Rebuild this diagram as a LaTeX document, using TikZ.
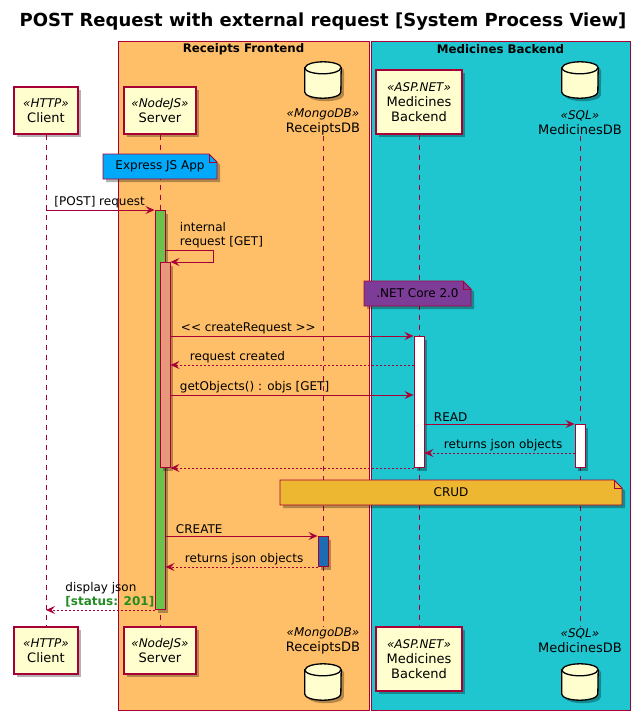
\documentclass[tikz,border=0pt]{standalone}
\usepackage{fontspec}
\setmainfont{DejaVu Sans}
\usetikzlibrary{calc, positioning, arrows.meta, shadows}

\definecolor{umlred}{HTML}{A80036}
\definecolor{umlivory}{HTML}{FEFECE}
\definecolor{frontorange}{HTML}{FFBF68}
\definecolor{backteal}{HTML}{1FC5CF}
\definecolor{expressblue}{HTML}{00A9F9}
\definecolor{netpurple}{HTML}{7D3C98}
\definecolor{crudgold}{HTML}{EDB731}
\definecolor{srvgreen}{HTML}{6BC24B}
\definecolor{intsalmon}{HTML}{E9977A}
\definecolor{dbblue}{HTML}{1B6CB3}
\definecolor{statusgreen}{HTML}{228B22}

\newcommand{\stereo}[1]{{\itshape\fontsize{12}{14}\selectfont «#1»}\\}
\newcommand{\umlnote}[5]{%
  \path #3 coordinate (#1-nw) #4 coordinate (#1-se);
  \draw[notebody, umlshadow, fill=#2] (#1-nw) -- ($(#1-nw -| #1-se)+(-8,0)$)
    -- ($(#1-nw -| #1-se)+(0,8)$) -- (#1-se) -- (#1-se -| #1-nw) -- cycle;
  \draw[notebody] ($(#1-nw -| #1-se)+(-8,0)$) |- ($(#1-nw -| #1-se)+(0,8)$);
  \node[notetext] (#1) at ($(#1-nw)!0.5!(#1-se)$) {#5};}
\newcommand{\dbcyl}[2]{%
  \node[inner sep=0pt, minimum width=36pt, minimum height=36pt] (#1) at #2 {};
  \draw[dbbody, umlshadow] ($(#1.north west)+(0,6)$) -- ($(#1.south west)+(0,-6)$)
    arc (180:0:18 and 6) -- ($(#1.north east)+(0,6)$) arc (0:-180:18 and 6) -- cycle;
  \draw[dbbody] ($(#1.north west)+(0,6)$) arc (180:0:18 and 6);}

\tikzset{
  >={Stealth[length=9pt, width=8pt, inset=3.5pt]},
  umlshadow/.style={drop shadow={shadow xshift=3pt, shadow yshift=-3pt, opacity=0.3, fill=black}},
  partbox/.style={draw=umlred, fill=umlivory, line width=1.4pt, align=center, inner sep=3pt,
    umlshadow, font=\fontsize{13}{15}\selectfont},
  dbbody/.style={draw=black, fill=umlivory, line width=1.3pt},
  dblabel/.style={align=center, inner sep=1pt, font=\fontsize{13}{15}\selectfont},
  grpbox/.style={draw=umlred, line width=1pt},
  grptitle/.style={font=\bfseries\fontsize{11.8}{13}\selectfont},
  lifeline/.style={draw=umlred, line width=0.8pt, dash pattern=on 5pt off 5pt},
  actbar/.style={draw=umlred, line width=1pt, minimum width=10pt, inner sep=0pt, anchor=north, umlshadow},
  notebody/.style={draw=umlred, line width=0.9pt},
  notetext/.style={inner sep=0pt, font=\fontsize{12}{14}\selectfont},
  msg/.style={draw=umlred, line width=0.9pt, ->},
  reply/.style={msg, dash pattern=on 2pt off 2pt},
  msglbl/.style={anchor=south west, inner sep=1pt, yshift=1pt, align=left, font=\fontsize{12}{14}\selectfont},
}

\begin{document}
\begin{tikzpicture}[x=1pt, y=-1pt]
\useasboundingbox (0,0) rectangle (640,720);

\node[font=\bfseries\fontsize{18}{21}\selectfont] (title) at (323,22)
  {POST Request with external request [System Process View]};

% boxes
\draw[grpbox, fill=frontorange] (118,41) rectangle (369,710);
\draw[grpbox, fill=backteal] (371,41) rectangle (630,710);
\node[grptitle] (frontTitle) at (243.5,49) {Receipts Frontend};
\node[grptitle] (backTitle) at (500.5,49) {Medicines Backend};

% participants
\node[partbox, minimum width=64, minimum height=47] (clientTop) at (46,110.5) {\stereo{HTTP}Client};
\node[partbox, minimum width=72, minimum height=47] (serverTop) at (160,110.5) {\stereo{NodeJS}Server};
\node[partbox, minimum width=86, minimum height=64] (backTop) at (419,102) {\stereo{ASP.NET}Medicines\\Backend};
\dbcyl{rdbIconTop}{(323,80)}
\node[dblabel, anchor=south] (rdbTop) at (323,136) {\stereo{MongoDB}ReceiptsDB};
\dbcyl{mdbIconTop}{(580,80)}
\node[dblabel, anchor=south] (mdbTop) at (580,136) {\stereo{SQL}MedicinesDB};

\node[partbox, minimum width=64, minimum height=47] (clientBot) at (46,650.5) {\stereo{HTTP}Client};
\node[partbox, minimum width=72, minimum height=47] (serverBot) at (160,650.5) {\stereo{NodeJS}Server};
\node[partbox, minimum width=86, minimum height=64] (backBot) at (419,659) {\stereo{ASP.NET}Medicines\\Backend};
\node[dblabel, anchor=north] (rdbBot) at (323,627) {\stereo{MongoDB}ReceiptsDB};
\dbcyl{rdbIconBot}{(323,682)}
\node[dblabel, anchor=north] (mdbBot) at (580,627) {\stereo{SQL}MedicinesDB};
\dbcyl{mdbIconBot}{(580,682)}

% lifelines
\draw[lifeline] (clientTop) -- (clientBot);
\draw[lifeline] (serverTop) -- (serverBot);
\draw[lifeline] (rdbTop) -- (rdbBot);
\draw[lifeline] (backTop) -- (backBot);
\draw[lifeline] (mdbTop) -- (mdbBot);

% activations
\node[actbar, fill=srvgreen, minimum height=399] (srvAct) at (160,210) {};
\node[actbar, fill=intsalmon, minimum height=205] (intAct) at (165,262) {};
\node[actbar, fill=white, minimum height=131] (backAct) at (419,336) {};
\node[actbar, fill=white, minimum height=43] (mdbAct) at (580,424) {};
\node[actbar, fill=dbblue, minimum height=30] (rdbAct) at (323,536) {};

% notes
\umlnote{expressNote}{expressblue}{(103,154)}{(217,179)}{Express JS App}
\umlnote{netNote}{netpurple}{(364,281)}{(471,306)}{.NET Core 2.0}
\umlnote{crudNote}{crudgold}{(280,480)}{(622,505)}{CRUD}

% messages
\draw[msg] (clientTop |- srvAct.north) -- node[msglbl, pos=0, xshift=7pt] {[POST] request} (srvAct.north west);
\draw[msg] (srvAct.east |- 0,250) node[msglbl, xshift=13pt] {internal\\request [GET]}
  -- ++(48,0) |- (intAct.north east);
\draw[msg] (intAct.east |- backAct.north) -- node[msglbl, pos=0, xshift=9pt]
  {<\kern0pt< createRequest >\kern0pt>} (backAct.north west);
\draw[reply] (backAct.west |- 0,365) -- node[msglbl, pos=1, xshift=18pt] {request created} (intAct.east |- 0,365);
\draw[msg] (intAct.east |- 0,395) -- node[msglbl, pos=0, xshift=8pt] {getObjects() : objs [GET]} (backAct.west |- 0,395);
\draw[msg] (backAct.east |- mdbAct.north) -- node[msglbl, pos=0, xshift=8pt] {READ} (mdbAct.north west);
\draw[reply] (mdbAct.west |- 0,453) -- node[msglbl, pos=1, xshift=18pt] {returns json objects} (backAct.east |- 0,453);
\draw[reply] (backAct.south west) -- (intAct.south east);
\draw[msg] (srvAct.east |- rdbAct.north) -- node[msglbl, pos=0, xshift=9pt] {CREATE} (rdbAct.north west);
\draw[reply] (rdbAct.south west) -- node[msglbl, pos=1, xshift=18pt] {returns json objects} (srvAct.east |- rdbAct.south);
\draw[reply] (srvAct.south west) -- node[msglbl, pos=1, xshift=18pt]
  {display json\\{\bfseries\color{statusgreen}[status: 201]}} (clientTop |- srvAct.south);
\end{tikzpicture}
\end{document}
